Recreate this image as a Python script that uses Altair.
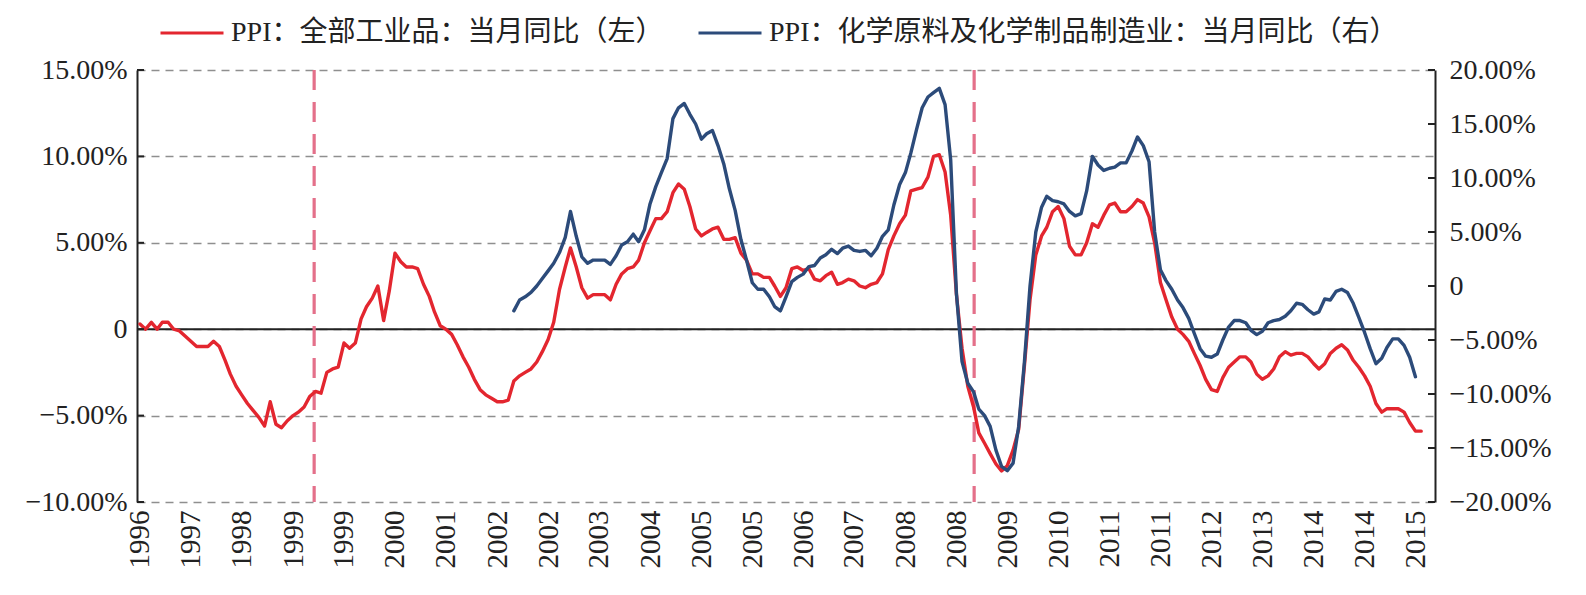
import altair as alt
import pandas as pd

# ---------------- data ----------------
months = pd.date_range("1996-11-01", periods=227, freq="MS").strftime("%Y-%m-%d").tolist()

# PPI: all industrial products, YoY % (left axis), 1996-11 .. 2015-09
ppi_all = [
    0.3, 0.0, 0.4, 0.0, 0.4, 0.4, 0.0, -0.1, -0.4, -0.7,
    -1.0, -1.0, -1.0, -0.7, -1.0, -1.8, -2.6, -3.3, -3.8, -4.3,
    -4.7, -5.1, -5.6, -4.2, -5.5, -5.7, -5.3, -5.0, -4.8, -4.5,
    -3.9, -3.6, -3.7, -2.5, -2.3, -2.2, -0.8, -1.1, -0.8, 0.6,
    1.3, 1.8, 2.5, 0.5, 2.2, 4.4, 3.9, 3.6, 3.6, 3.5,
    2.6, 1.9, 1.0, 0.2, 0.0, -0.3, -0.9, -1.6, -2.2, -2.9,
    -3.5, -3.8, -4.0, -4.2, -4.2, -4.1, -3.0, -2.7, -2.5, -2.3,
    -1.9, -1.3, -0.6, 0.4, 2.3, 3.6, 4.7, 3.6, 2.4, 1.8,
    2.0, 2.0, 2.0, 1.7, 2.6, 3.2,
    3.5, 3.6, 4.0, 5.0, 5.7, 6.4, 6.4, 6.8, 7.9, 8.4, 8.1, 7.1,
    5.8, 5.4, 5.6, 5.8, 5.9, 5.2, 5.2, 5.3, 4.4, 4.0, 3.2, 3.2,
    3.0, 3.0, 2.5, 1.9, 2.4, 3.5, 3.6, 3.4, 3.5, 2.9, 2.8, 3.1,
    3.3, 2.6, 2.7, 2.9, 2.8, 2.5, 2.4, 2.6, 2.7, 3.2, 4.6, 5.4,
    6.1, 6.6, 8.0, 8.1, 8.2, 8.8, 10.0, 10.1, 9.1, 6.6, 2.0, -1.1,
    -3.3, -4.5, -6.0, -6.6, -7.2, -7.8, -8.2, -7.9, -7.0, -5.8, -2.1, 1.7,
    4.3, 5.4, 5.9, 6.8, 7.1, 6.4, 4.8, 4.3, 4.3, 5.0, 6.1, 5.9,
    6.6, 7.2, 7.3, 6.8, 6.8, 7.1, 7.5, 7.3, 6.5, 5.0, 2.7, 1.7,
    0.7, 0.0, -0.3, -0.7, -1.4, -2.1, -2.9, -3.5, -3.6, -2.8, -2.2, -1.9,
    -1.6, -1.6, -1.9, -2.6, -2.9, -2.7, -2.3, -1.6, -1.3, -1.5, -1.4, -1.4,
    -1.6, -2.0, -2.3, -2.0, -1.4, -1.1, -0.9, -1.2, -1.8, -2.2, -2.7, -3.3,
    -4.3, -4.8, -4.6, -4.6, -4.6, -4.8, -5.4, -5.9, -5.9,
]

# PPI: chemical raw materials & chemical products, YoY % (right axis), 2002-05 .. 2015-09
chem_start = 66
ppi_chem = [
    -2.3, -1.3, -1.0, -0.6, 0.0, 0.7, 1.4, 2.1, 3.1, 4.5,
    6.9, 4.6, 2.7, 2.1, 2.4, 2.4, 2.4, 2.0, 2.8, 3.8,
    4.1, 4.8, 4.1, 5.2, 7.6, 9.2, 10.5, 11.8, 15.5, 16.5,
    16.9, 15.9, 15.0, 13.6, 14.1, 14.4, 13.0, 11.3, 9.0, 7.0,
    4.3, 2.4, 0.3, -0.3, -0.3, -1.0, -1.9, -2.3, -1.0, 0.4,
    0.8, 1.1, 1.8, 1.9, 2.6, 2.9, 3.4, 3.0, 3.5, 3.7,
    3.3, 3.2, 3.3, 2.8, 3.5, 4.6, 5.2, 7.5, 9.4, 10.5,
    12.3, 14.5, 16.5, 17.5, 17.9, 18.3, 16.8, 11.7, -0.7, -7.0,
    -9.0, -9.8, -11.4, -12.0, -13.0, -15.2, -16.7, -17.1, -16.4, -13.0,
    -7.0, 0.0, 5.0, 7.3, 8.3, 7.9, 7.8, 7.6, 6.9, 6.5,
    6.7, 8.8, 12.0, 11.2, 10.7, 10.9, 11.0, 11.4, 11.4, 12.5,
    13.8, 13.0, 11.5, 5.0, 1.5, 0.5, -0.3, -1.3, -2.0, -3.0,
    -4.4, -5.8, -6.5, -6.6, -6.3, -5.0, -3.8, -3.2, -3.2, -3.4,
    -4.1, -4.5, -4.2, -3.4, -3.2, -3.1, -2.8, -2.3, -1.6, -1.7,
    -2.2, -2.6, -2.4, -1.2, -1.3, -0.5, -0.3, -0.6, -1.6, -2.9,
    -4.3, -5.8, -7.2, -6.7, -5.7, -4.9, -4.9, -5.5, -6.6, -8.4,
]

left_ticks = [-10, -5, 0, 5, 10, 15]
right_ticks = [-20, -15, -10, -5, 0, 5, 10, 15, 20]
tick_months = months[::9]
marker_dates = ["1999-05-25", "2009-02-04"]

name_all = "PPI：全部工业品：当月同比（左）"
name_chem = "PPI：化学原料及化学制品制造业：当月同比（右）"

# ---------------- styling ----------------
RED = "#E3262F"
BLUE = "#2C4B7A"
PINK = "#E4708A"
INK = "#222222"
W, H = 1298, 432
SERIF = "Liberation Serif"
MIXED = "Liberation Serif, Noto Sans CJK SC"

red_df = pd.DataFrame({"date": months, "value": ppi_all, "series": name_all})
blue_df = pd.DataFrame({"date": months[chem_start:chem_start + len(ppi_chem)],
                        "value": ppi_chem, "series": name_chem})


def dt(s):
    y, m, d = (int(p) for p in s.split("-"))
    return alt.DateTime(year=y, month=m, date=d, utc=True)


x_scale = alt.Scale(type="utc", domain=[dt("1996-10-16"), dt("2015-11-14")])
x_axis = alt.Axis(values=[dt(s) for s in tick_months],
                  labelExpr="utcFormat(datum.value, '%Y')",
                  labelAngle=270, domain=False, ticks=False, grid=False,
                  labelFont=SERIF, labelFontSize=29, labelColor=INK,
                  labelPadding=8, labelOverlap=False, labelFlush=False,
                  labelBound=False, title=None)
X = alt.X("date:T", scale=x_scale, axis=x_axis)

pct_expr = "datum.value == 0 ? '0' : format(datum.value, '.2f') + '%'"

left_scale = alt.Scale(domain=[-10, 15], nice=False, zero=False)
right_scale = alt.Scale(domain=[-20, 20], nice=False, zero=False)

left_axis = alt.Axis(orient="left", values=left_ticks, labelExpr=pct_expr, title=None,
                     grid=True, gridDash=[8, 6], gridColor="#8f8f8f", gridWidth=1.5,
                     domain=True, domainColor=INK, domainWidth=2, ticks=False,
                     labelFont=SERIF, labelFontSize=28, labelColor=INK, labelPadding=10)
right_axis = alt.Axis(orient="right", values=right_ticks, labelExpr=pct_expr, title=None,
                      grid=False, domain=True, domainColor=INK, domainWidth=2, ticks=False,
                      labelFont=SERIF, labelFontSize=28, labelColor=INK, labelPadding=14)

color = alt.Color("series:N",
                  scale=alt.Scale(domain=[name_all, name_chem], range=[RED, BLUE]),
                  legend=alt.Legend(title=None, orient="none", direction="horizontal",
                                    legendX=22, legendY=-70, padding=0,
                                    symbolType="stroke", symbolSize=3969,
                                    symbolStrokeWidth=3, labelFont=MIXED,
                                    labelFontSize=28, labelColor=INK, labelLimit=2000,
                                    labelOffset=6, columnPadding=28))

# left-axis group (every child carries the same axis spec so the merge keeps it)
LY = lambda f: alt.Y(f, scale=left_scale, axis=left_axis)
RY = lambda f: alt.Y(f, scale=right_scale, axis=right_axis)

zero_rule = alt.Chart(pd.DataFrame({"value": [0]})).mark_rule(color=INK, strokeWidth=2).encode(
    y=LY("value:Q"))
markers = alt.Chart(pd.DataFrame({"date": marker_dates})).mark_rule(
    color=PINK, strokeWidth=3.2, strokeDash=[20, 12]).encode(x=X)
red_line = alt.Chart(red_df).mark_line(strokeWidth=3.4, strokeJoin="round", strokeCap="round").encode(
    x=X, y=LY("value:Q"), color=color)
left_tick_marks = alt.Chart(pd.DataFrame({"value": left_ticks})).mark_rule(color=INK, strokeWidth=2).encode(
    y=LY("value:Q"), x=alt.value(0), x2=alt.value(7))

left_group = alt.layer(zero_rule, markers, red_line, left_tick_marks)

# right-axis group
blue_line = alt.Chart(blue_df).mark_line(strokeWidth=3.4, strokeJoin="round", strokeCap="round").encode(
    x=X, y=RY("value:Q"), color=color)
right_tick_marks = alt.Chart(pd.DataFrame({"value": right_ticks})).mark_rule(color=INK, strokeWidth=2).encode(
    y=RY("value:Q"), x=alt.value(W - 7), x2=alt.value(W))

right_group = alt.layer(blue_line, right_tick_marks)

chart = alt.layer(left_group, right_group).resolve_scale(y="independent").properties(
    width=W, height=H,
    autosize=alt.AutoSizeParams(type="none"),
    padding={"left": 137, "top": 70, "right": 151, "bottom": 93},
    background="white",
).configure_view(stroke=None)

chart.save("out.html", embed_options={"renderer": "svg", "actions": False})
